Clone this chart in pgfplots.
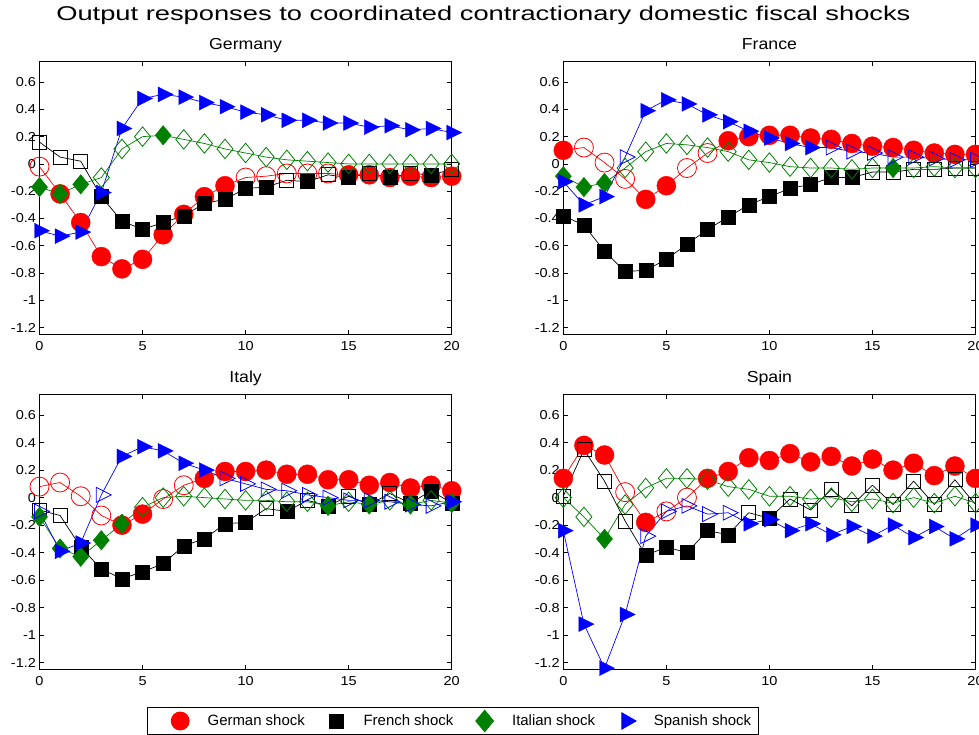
\documentclass[border=0pt]{standalone}
\usepackage{pgfplots}
\usepackage{pgfplotstable}
\pgfplotsset{compat=1.18}
\usepackage{fontspec}
\setmainfont{Liberation Sans}
\newfontfamily\titlefont[FakeStretch=1.37]{Liberation Sans}
\newfontfamily\ptfont[FakeStretch=1.11]{Liberation Sans}
\newfontfamily\tickfont[FakeStretch=1.12]{Liberation Sans}
\definecolor{mgreen}{rgb}{0,0.5,0}

% columns: t, German shock (value, significant), French, Italian, Spanish
\pgfplotstableread{
t gv gs fv fs iv is sv ss
0 -0.02 0 0.16 0 -0.17 1 -0.49 1
1 -0.22 1 0.05 0 -0.22 1 -0.53 1
2 -0.43 1 0.02 0 -0.15 1 -0.50 1
3 -0.68 1 -0.24 1 -0.10 0 -0.21 1
4 -0.77 1 -0.42 1 0.11 0 0.26 1
5 -0.70 1 -0.48 1 0.20 0 0.48 1
6 -0.52 1 -0.43 1 0.21 1 0.51 1
7 -0.37 1 -0.38 1 0.18 0 0.49 1
8 -0.24 1 -0.29 1 0.15 0 0.45 1
9 -0.16 1 -0.26 1 0.11 0 0.42 1
10 -0.10 0 -0.18 1 0.08 0 0.38 1
11 -0.09 0 -0.17 1 0.05 0 0.36 1
12 -0.07 0 -0.12 0 0.03 0 0.32 1
13 -0.07 0 -0.13 1 0.02 0 0.32 1
14 -0.07 0 -0.08 0 0.01 0 0.30 1
15 -0.08 1 -0.10 1 0.00 0 0.30 1
16 -0.08 1 -0.07 0 0.00 0 0.27 1
17 -0.10 1 -0.10 1 0.00 0 0.28 1
18 -0.09 1 -0.07 0 0.00 0 0.25 1
19 -0.10 1 -0.08 1 0.00 0 0.26 1
20 -0.09 1 -0.04 0 0.00 0 0.23 1
}\germany

\pgfplotstableread{
t gv gs fv fs iv is sv ss
0 0.10 1 -0.38 1 -0.09 1 -0.13 1
1 0.12 0 -0.45 1 -0.17 1 -0.30 1
2 0.01 0 -0.64 1 -0.14 1 -0.24 1
3 -0.11 0 -0.79 1 -0.03 0 0.05 0
4 -0.26 1 -0.78 1 0.09 0 0.39 1
5 -0.16 1 -0.70 1 0.15 0 0.47 1
6 -0.03 0 -0.59 1 0.14 0 0.44 1
7 0.08 0 -0.48 1 0.12 0 0.36 1
8 0.17 1 -0.39 1 0.09 0 0.31 1
9 0.20 1 -0.30 1 0.03 0 0.24 1
10 0.21 1 -0.24 1 0.01 0 0.19 1
11 0.21 1 -0.18 1 -0.02 0 0.15 1
12 0.19 1 -0.15 1 -0.03 0 0.12 1
13 0.18 1 -0.10 1 -0.03 0 0.12 0
14 0.15 1 -0.10 1 -0.04 0 0.09 0
15 0.13 1 -0.06 0 -0.03 0 0.08 0
16 0.12 1 -0.06 0 -0.03 1 0.05 0
17 0.10 1 -0.04 0 -0.03 0 0.05 0
18 0.08 1 -0.04 0 -0.02 0 0.04 0
19 0.07 1 -0.03 0 -0.03 0 0.03 0
20 0.07 1 -0.03 0 -0.03 0 0.03 0
}\france

\pgfplotstableread{
t gv gs fv fs iv is sv ss
0 0.08 0 -0.09 0 -0.14 1 -0.10 0
1 0.11 0 -0.13 0 -0.37 1 -0.39 1
2 0.01 0 -0.36 1 -0.43 1 -0.33 1
3 -0.13 0 -0.52 1 -0.31 1 0.02 0
4 -0.20 1 -0.59 1 -0.19 1 0.30 1
5 -0.12 1 -0.54 1 -0.07 0 0.37 1
6 -0.01 0 -0.48 1 0.00 0 0.34 1
7 0.09 0 -0.35 1 0.01 0 0.25 1
8 0.14 1 -0.30 1 0.00 0 0.20 1
9 0.19 1 -0.19 1 -0.01 0 0.14 0
10 0.19 1 -0.18 1 -0.02 0 0.10 0
11 0.20 1 -0.08 0 -0.02 0 0.06 0
12 0.17 1 -0.10 1 -0.03 0 0.05 0
13 0.17 1 -0.02 0 -0.03 0 0.02 0
14 0.13 1 -0.06 1 -0.06 1 0.00 0
15 0.13 1 0.01 0 -0.03 0 -0.02 0
16 0.09 1 -0.05 1 -0.05 1 -0.02 0
17 0.11 1 0.03 0 -0.02 0 -0.03 0
18 0.07 1 -0.04 1 -0.05 1 -0.05 0
19 0.09 1 0.05 1 -0.02 0 -0.06 0
20 0.05 1 -0.04 1 -0.04 1 -0.03 1
}\italy

\pgfplotstableread{
t gv gs fv fs iv is sv ss
0 0.14 1 0.01 0 0.00 0 -0.24 1
1 0.38 1 0.35 0 -0.14 0 -0.92 1
2 0.31 1 0.12 0 -0.30 1 -1.24 1
3 0.04 0 -0.17 0 -0.05 0 -0.85 1
4 -0.18 1 -0.42 1 0.07 0 -0.28 0
5 -0.10 0 -0.36 1 0.14 0 -0.10 0
6 0.00 0 -0.40 1 0.14 0 -0.06 0
7 0.14 1 -0.24 1 0.13 0 -0.12 0
8 0.19 1 -0.27 1 0.08 0 -0.11 0
9 0.29 1 -0.11 0 0.06 0 -0.19 1
10 0.27 1 -0.15 1 0.01 0 -0.16 1
11 0.32 1 -0.01 0 0.01 0 -0.24 1
12 0.26 1 -0.09 0 -0.01 0 -0.19 1
13 0.30 1 0.06 0 0.00 0 -0.27 1
14 0.23 1 -0.06 0 -0.03 0 -0.21 1
15 0.28 1 0.09 0 -0.01 0 -0.28 1
16 0.20 1 -0.05 0 -0.04 0 -0.20 1
17 0.25 1 0.12 0 0.00 0 -0.29 1
18 0.16 1 -0.05 0 -0.04 0 -0.21 1
19 0.23 1 0.13 0 0.01 0 -0.30 1
20 0.14 1 -0.05 0 -0.04 0 -0.20 1
}\spain

\pgfplotsset{
  gerline/.style={color=red, line width=0.7bp, mark=none},
  geropen/.style={color=red, only marks, mark=o, mark size=9.5bp, line width=0.8bp},
  gerfill/.style={color=red, only marks, mark=*, mark size=9.5bp},
  fraline/.style={color=black, line width=0.7bp, mark=none},
  fraopen/.style={color=black, only marks, mark=square, mark size=7bp, line width=0.8bp},
  frafill/.style={color=black, only marks, mark=square*, mark size=7bp},
  italine/.style={color=mgreen, line width=0.7bp, mark=none},
  itaopen/.style={color=mgreen, only marks, mark=diamond, mark size=9.75bp, line width=0.8bp, mark options={xscale=1.1}},
  itafill/.style={color=mgreen, only marks, mark=diamond*, mark size=9.75bp, mark options={xscale=1.1}},
  spaline/.style={color=blue, line width=0.7bp, mark=none},
  spaopen/.style={color=blue, only marks, mark=triangle, mark size=9.5bp, line width=0.8bp, mark options={rotate=-90, xscale=0.9, yscale=1.05}},
  spafill/.style={color=blue, only marks, mark=triangle*, mark size=9.5bp, mark options={rotate=-90, xscale=0.9, yscale=1.05}},
  panel/.style={
    scale only axis, width=412.2bp,
    xmin=0, xmax=20, ymin=-1.25, ymax=0.75, clip=false,
    axis line style={line width=1bp},
    every tick/.style={black, line width=0.8bp},
    major tick length=4.5bp, tick align=inside,
    xtick={0,5,10,15,20},
    ytick={-1.2,-1,-0.8,-0.6,-0.4,-0.2,0,0.2,0.4,0.6},
    tick label style={font=\tickfont\fontsize{13}{15}\selectfont},
    /pgf/number format/assume math mode=true,
    yticklabel style={/pgf/number format/fixed, /pgf/number format/precision=1},
    xticklabel shift=3.5bp,
    title style={font=\ptfont\fontsize{16}{18}\selectfont, at={(0.5,1)}, anchor=base, yshift=6.5bp, inner sep=0pt},
  },
  legmark/.style={only marks, legend image code/.code={\path (-28bp,0) (24bp,0); \draw[##1] plot coordinates {(0,0)};}},
}

\newcommand{\shock}[3]{%
  \addplot[#3line] table[x=t,y=#2v]{#1};
  \addplot[#3open, restrict expr to domain={\thisrow{#2s}}{-0.5:0.5}] table[x=t,y=#2v]{#1};
  \addplot[#3fill, restrict expr to domain={\thisrow{#2s}}{0.5:1.5}] table[x=t,y=#2v]{#1};
}
\newcommand{\panel}[1]{\shock{#1}{g}{ger}\shock{#1}{f}{fra}\shock{#1}{i}{ita}\shock{#1}{s}{spa}}

\begin{document}
\begin{tikzpicture}
\path[use as bounding box] (0,0) rectangle (979bp,735bp);

\node[anchor=base, inner sep=0pt, font=\titlefont\fontsize{20}{22}\selectfont] at (483.4bp,714bp)
  {Output responses to coordinated contractionary domestic fiscal shocks};

\begin{axis}[panel, at={(39.5bp,400.7bp)}, anchor=south west, height=272.6bp, title={Germany}]
\panel{\germany}
\end{axis}

\begin{axis}[panel, at={(563.3bp,400.7bp)}, anchor=south west, height=272.6bp, title={France}]
\panel{\france}
\end{axis}

\begin{axis}[panel, at={(39.5bp,65.5bp)}, anchor=south west, height=275bp, title={Italy}]
\panel{\italy}
\end{axis}

\begin{axis}[panel, at={(563.3bp,65.5bp)}, anchor=south west, height=275bp, title={Spain}]
\panel{\spain}
\end{axis}

\begin{axis}[hide axis, scale only axis, width=10bp, height=10bp, at={(453bp,14bp)}, anchor=center,
  xmin=0, xmax=1, ymin=0, ymax=1,
  legend columns=4,
  legend style={at={(0.5,0.5)}, anchor=center, draw=black, line width=0.8bp,
    font=\fontsize{15}{17}\selectfont, inner xsep=4bp, inner ysep=3bp,
    nodes={inner xsep=3bp, inner ysep=2bp}},
  legend cell align=left]
\addlegendimage{legmark, red, mark=*, mark size=9bp}
\addlegendentry{German shock}
\addlegendimage{legmark, black, mark=square*, mark size=7bp}
\addlegendentry{French shock}
\addlegendimage{legmark, mgreen, mark=diamond*, mark size=10.8bp, mark options={xscale=1.1}}
\addlegendentry{Italian shock}
\addlegendimage{legmark, blue, mark=triangle*, mark size=9.5bp, mark options={rotate=-90}}
\addlegendentry{Spanish shock}
\end{axis}
\end{tikzpicture}
\end{document}
